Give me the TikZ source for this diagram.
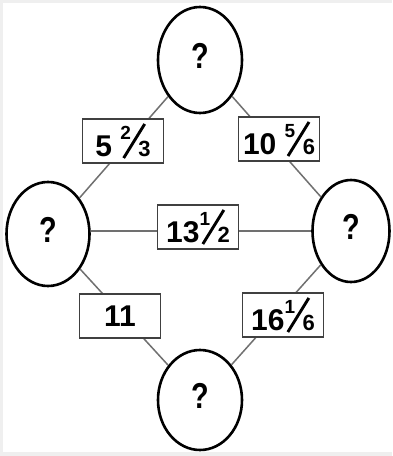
\documentclass[tikz,border=0pt]{standalone}
\usepackage{fontspec}
\setmainfont{Liberation Sans}
\usetikzlibrary{shapes.geometric}
\newcommand{\myfr}[2]{\raisebox{17pt}{\fontsize{19}{19}\selectfont #1}\kern-8.5pt\raisebox{-0.6pt}{\rotatebox{-31.7}{\rule{2.9pt}{40pt}}}\kern-7.5pt{\fontsize{22}{22}\selectfont #2}}
\newcommand{\qm}{\raisebox{9pt}{\scalebox{0.8}[1]{?}}}
\definecolor{bordergray}{HTML}{EFEFEF}
\definecolor{linegray}{HTML}{707070}
\definecolor{boxgray}{HTML}{404040}
\tikzset{
  qnode/.style={ellipse, draw=black, line width=2.6pt, fill=white, inner sep=0pt,
    font=\fontsize{36}{36}\selectfont\bfseries},
  numbox/.style={rectangle, draw=boxgray, line width=1.3pt, fill=white, inner sep=0pt,
    minimum width=81pt, minimum height=44pt, font=\fontsize{30}{30}\selectfont\bfseries},
  conn/.style={draw=linegray, line width=1.5pt}
}
\begin{document}
\begin{tikzpicture}[x=1pt,y=-1pt]
\fill[bordergray] (0,0) rectangle (392,456);
\fill[white] (3,3) rectangle (392,452);
\useasboundingbox (0,0) rectangle (392,456);
\node[qnode, minimum width=84pt, minimum height=106pt] (top) at (200,60) {\qm};
\node[qnode, minimum width=83pt, minimum height=104pt] (left) at (48,234) {\qm};
\node[qnode, minimum width=77pt, minimum height=102pt] (right) at (351,231) {\qm};
\node[qnode, minimum width=84pt, minimum height=100pt] (bottom) at (200,400) {\qm};
\draw[conn] (top) -- (left);
\draw[conn] (top) -- (right);
\draw[conn] (left.east |- 0,231) -- (right.west |- 0,231);
\draw[conn] (left) -- (bottom);
\draw[conn] (right) -- (bottom);
\node[numbox] (b1) at (123,141) {5 \myfr{2}{3}};
\node[numbox] (b2) at (279,139) {10 \myfr{5}{6}};
\node[numbox] (b3) at (198,227) {13\myfr{1}{2}};
\node[numbox] (b4) at (120,316) {11};
\node[numbox] (b5) at (283,315) {16\myfr{1}{6}};
\end{tikzpicture}
\end{document}
